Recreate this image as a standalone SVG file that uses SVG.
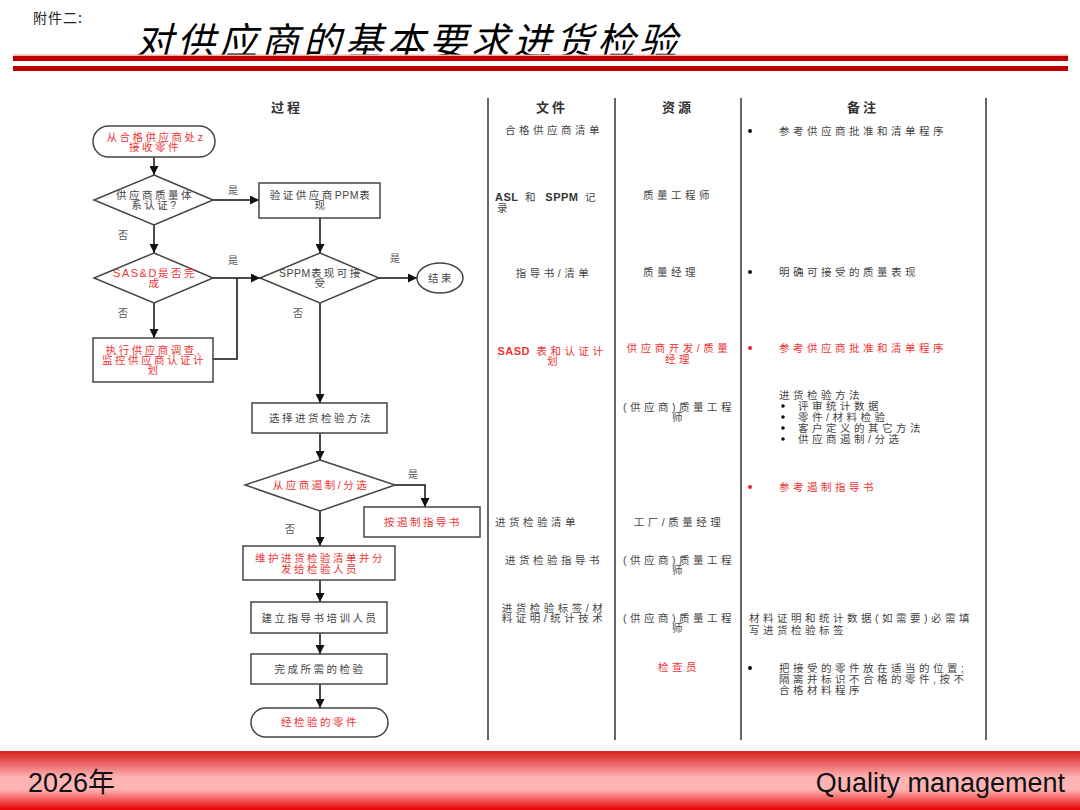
<svg xmlns="http://www.w3.org/2000/svg" width="1080" height="810" viewBox="0 0 1080 810">
<defs>
<style>
.t{font-family:"Liberation Sans","Noto Sans CJK SC",sans-serif;font-size:10.5px;letter-spacing:2.5px;fill:#444}
.k{letter-spacing:3.5px}
.r{fill:#ee3333}
.c{text-anchor:middle}
.l{letter-spacing:0.5px;font-size:10.5px}
.s{letter-spacing:1.5px;font-size:11px}
.b{font-weight:bold;letter-spacing:0.5px;font-size:11px}
.h{font-family:"Noto Sans CJK SC",sans-serif;font-size:13px;font-weight:bold;letter-spacing:3px;fill:#333;text-anchor:middle}
.lb{font-family:"Noto Sans CJK SC",sans-serif;font-size:10px;fill:#555}
.shape{fill:#fff;stroke:#444;stroke-width:1.5}
.conn{stroke:#111;stroke-width:1.5;fill:none}
.col{stroke:#666;stroke-width:2}
.dot{fill:#111}
.rdot{fill:#ee2222}
</style>
<marker id="arr" markerUnits="userSpaceOnUse" markerWidth="9" markerHeight="9" refX="9" refY="4.5" orient="auto">
<path d="M0,0 L9,4.5 L0,9 z" fill="#111"/>
</marker>
<linearGradient id="foot" x1="0" y1="0" x2="0" y2="1">
<stop offset="0" stop-color="#d82020"/>
<stop offset="0.45" stop-color="#ffb4b4"/>
<stop offset="0.65" stop-color="#ffb4b4"/>
<stop offset="1" stop-color="#e60000"/>
</linearGradient>
</defs>
<rect width="1080" height="810" fill="#fff"/>

<g id="header">
<text x="33" y="23" font-family="Noto Sans CJK SC,sans-serif" font-size="14" letter-spacing="1" fill="#222">附件二:</text>
<text x="135" y="55" font-family="Noto Sans CJK SC,sans-serif" font-size="38" font-style="italic" letter-spacing="4" fill="#000">对供应商的基本要求进货检验</text>
<rect x="13" y="54.5" width="1055" height="1.5" fill="#f2b0b0"/>
<rect x="13" y="56" width="1055" height="5" fill="#c00000"/>
<rect x="13" y="66" width="1055" height="5" fill="#c00000"/>
</g>

<g id="columns">
<line class="col" x1="488" y1="98" x2="488" y2="740"/>
<line class="col" x1="615" y1="98" x2="615" y2="740"/>
<line class="col" x1="741" y1="98" x2="741" y2="740"/>
<line class="col" x1="986" y1="98" x2="986" y2="740"/>
<text class="h" x="287" y="112">过程</text>
<text class="h" x="552" y="112">文件</text>
<text class="h" x="678" y="112">资源</text>
<text class="h" x="863" y="112">备注</text>
</g>

<g id="connectors">
<path class="conn" d="M154,157 V175" marker-end="url(#arr)"/>
<path class="conn" d="M213,200 H259" marker-end="url(#arr)"/>
<path class="conn" d="M154,225 V253" marker-end="url(#arr)"/>
<path class="conn" d="M320,218 V253" marker-end="url(#arr)"/>
<path class="conn" d="M213,278 H260" marker-end="url(#arr)"/>
<path class="conn" d="M213,359 H237 V278"/>
<path class="conn" d="M379,278 H417" marker-end="url(#arr)"/>
<path class="conn" d="M154,303 V338" marker-end="url(#arr)"/>
<path class="conn" d="M320,303 V403" marker-end="url(#arr)"/>
<path class="conn" d="M320,433 V460" marker-end="url(#arr)"/>
<path class="conn" d="M395,485 H425 V507" marker-end="url(#arr)"/>
<path class="conn" d="M320,511 V546" marker-end="url(#arr)"/>
<path class="conn" d="M320,580 V602" marker-end="url(#arr)"/>
<path class="conn" d="M320,633 V654" marker-end="url(#arr)"/>
<path class="conn" d="M320,684 V708" marker-end="url(#arr)"/>
<text class="lb" x="228" y="194">是</text>
<text class="lb" x="118" y="239">否</text>
<text class="lb" x="228" y="264">是</text>
<text class="lb" x="390" y="262">是</text>
<text class="lb" x="118" y="317">否</text>
<text class="lb" x="293" y="317">否</text>
<text class="lb" x="408" y="478">是</text>
<text class="lb" x="285" y="533">否</text>
</g>

<g id="n-start">
<rect class="shape" x="93" y="126" width="122" height="31" rx="15.5"/>
<text class="t r c" x="155" y="141">从合格供应商处<tspan class="l">z</tspan></text>
<text class="t r c" x="155" y="151">接收零件</text>
</g>
<g id="n-d1">
<polygon class="shape" points="154,175 213,200 154,225 94,200"/>
<text class="t c" x="155" y="199">供应商质量体</text>
<text class="t c" x="155" y="209">系认证?</text>
</g>
<g id="n-ppm">
<rect class="shape" x="259" y="183" width="121" height="35"/>
<text class="t c" x="321" y="199">验证供应商<tspan class="l">PPM</tspan>表</text>
<text class="t c" x="321" y="209">现</text>
</g>
<g id="n-d3">
<polygon class="shape" points="154,253 213,278 154,303 94,278"/>
<text class="t r c" x="155" y="277"><tspan class="s">SAS&amp;D</tspan>是否完</text>
<text class="t r c" x="155" y="287">成</text>
</g>
<g id="n-d2">
<polygon class="shape" points="320,253 379,278 320,303 260,278"/>
<text class="t c" x="321" y="277"><tspan class="l">SPPM</tspan>表现可接</text>
<text class="t c" x="321" y="287">受</text>
</g>
<g id="n-end">
<ellipse class="shape" cx="440" cy="278" rx="23" ry="15"/>
<text class="t c" x="441" y="282">结束</text>
</g>
<g id="n-survey">
<rect class="shape" x="93" y="338" width="120" height="44"/>
<text class="t r c" x="154" y="354">执行供应商调查,</text>
<text class="t r c" x="154" y="364">监控供应商认证计</text>
<text class="t r c" x="154" y="374">划</text>
</g>
<g id="n-select">
<rect class="shape" x="252" y="403" width="135" height="30"/>
<text class="t c" x="321" y="422">选择进货检验方法</text>
</g>
<g id="n-d4">
<polygon class="shape" points="320,460 395,485 320,511 245,485"/>
<text class="t r c" x="321" y="489">从应商遏制/分选</text>
</g>
<g id="n-contain">
<rect class="shape" x="364" y="507" width="116" height="30"/>
<text class="t r c" x="423" y="526">按遏制指导书</text>
</g>
<g id="n-maintain">
<rect class="shape" x="243" y="546" width="152" height="34"/>
<text class="t r c" x="320" y="562">维护进货检验清单并分</text>
<text class="t r c" x="320" y="573">发给检验人员</text>
</g>
<g id="n-train">
<rect class="shape" x="251" y="602" width="136" height="31"/>
<text class="t c" x="320" y="622">建立指导书培训人员</text>
</g>
<g id="n-inspect">
<rect class="shape" x="251" y="654" width="136" height="30"/>
<text class="t c" x="320" y="673">完成所需的检验</text>
</g>
<g id="n-final">
<rect class="shape" x="251" y="708" width="137" height="29" rx="14.5"/>
<text class="t r c" x="320" y="726">经检验的零件</text>
</g>

<g id="col-docs">
<text class="t k c" x="554" y="134">合格供应商清单</text>
<text class="t k" x="495" y="201"><tspan class="b" fill="#333">ASL</tspan> 和 <tspan class="b" fill="#333">SPPM</tspan> 记</text>
<text class="t k" x="497" y="212">录</text>
<text class="t k c" x="554" y="277">指导书/清单</text>
<text class="t k r c" x="552" y="355"><tspan class="b">SASD</tspan> 表和认证计</text>
<text class="t k r c" x="554" y="365">划</text>
<text class="t k" x="495" y="526">进货检验清单</text>
<text class="t k c" x="554" y="564">进货检验指导书</text>
<text class="t k c" x="554" y="612">进货检验标签/材</text>
<text class="t k c" x="554" y="622">料证明/统计技术</text>
</g>

<g id="col-res">
<text class="t k" x="643" y="199">质量工程师</text>
<text class="t k" x="643" y="276">质量经理</text>
<text class="t k r c" x="679" y="352">供应商开发/质量</text>
<text class="t k r c" x="679" y="363">经理</text>
<text class="t k c" x="679" y="411">(供应商)质量工程</text>
<text class="t k c" x="679" y="421">师</text>
<text class="t k c" x="679" y="526">工厂/质量经理</text>
<text class="t k c" x="679" y="564">(供应商)质量工程</text>
<text class="t k c" x="679" y="574">师</text>
<text class="t k c" x="679" y="622">(供应商)质量工程</text>
<text class="t k c" x="679" y="632">师</text>
<text class="t k r c" x="679" y="671">检查员</text>
</g>

<g id="col-notes">
<circle class="dot" cx="750" cy="131" r="2"/>
<text class="t k" x="779" y="135">参考供应商批准和清单程序</text>
<circle class="dot" cx="750" cy="272" r="2"/>
<text class="t k" x="779" y="276">明确可接受的质量表现</text>
<circle class="rdot" cx="750" cy="348" r="2"/>
<text class="t k r" x="779" y="352">参考供应商批准和清单程序</text>
<text class="t k" x="779" y="399">进货检验方法</text>
<circle class="dot" cx="783" cy="406" r="1.8"/>
<text class="t k" x="798" y="410">评审统计数据</text>
<circle class="dot" cx="783" cy="417" r="1.8"/>
<text class="t k" x="798" y="421">零件/材料检验</text>
<circle class="dot" cx="783" cy="428" r="1.8"/>
<text class="t k" x="798" y="432">客户定义的其它方法</text>
<circle class="dot" cx="783" cy="439" r="1.8"/>
<text class="t k" x="798" y="443">供应商遏制/分选</text>
<circle class="rdot" cx="750" cy="487" r="2"/>
<text class="t k r" x="779" y="491">参考遏制指导书</text>
<text class="t k" x="749" y="622">材料证明和统计数据(如需要)必需填</text>
<text class="t k" x="749" y="634">写进货检验标签</text>
<circle class="dot" cx="750" cy="668" r="2"/>
<text class="t k" x="779" y="672">把接受的零件放在适当的位置;</text>
<text class="t k" x="779" y="683">隔离并标识不合格的零件,按不</text>
<text class="t k" x="779" y="694">合格材料程序</text>
</g>

<g id="footer">
<rect x="0" y="751" width="1080" height="59" fill="url(#foot)"/>
<text x="28" y="792" font-family="Liberation Sans,Noto Sans CJK SC,sans-serif" font-size="27" fill="#111">2026年</text>
<text x="1065" y="792" text-anchor="end" font-family="Liberation Sans,sans-serif" font-size="27" fill="#111">Quality management</text>
</g>
</svg>
